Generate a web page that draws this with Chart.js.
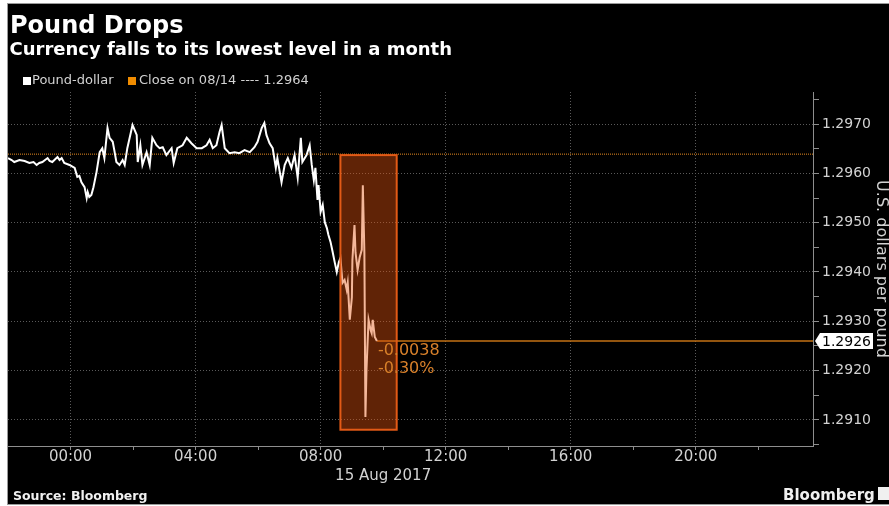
<!DOCTYPE html>
<html>
<head>
<meta charset="utf-8">
<title>Pound Drops</title>
<script src="https://cdn.jsdelivr.net/npm/chart.js@4.4.0/dist/chart.umd.min.js"></script>
<style>
  html, body { margin: 0; padding: 0; background: #fff; }
  #frame {
    position: absolute; left: 7px; top: 3px;
    width: 881px; height: 500px; background: #000;
    border-left: 1px solid #9a9a9a; border-top: 1px solid #9a9a9a; border-bottom: 1px solid #9a9a9a;
  }
  #frame canvas { display: block; }
</style>
</head>
<body>
<div id="frame"><canvas id="pound" width="881" height="500"></canvas></div>
<script>
// minutes from 00:00 on 15 Aug 2017 (negative = evening of 14 Aug)
const times = [
  -120, -113, -108, -98, -88, -79, -71, -65, -60, -54, -44, -40, -35, -29, -25, -21, -17, -12, -2,
  8, 13, 17, 21, 27, 31, 33, 36, 40, 44, 50, 56, 61, 65, 71, 75, 81, 84, 88, 94, 100, 104, 109,
  119, 127, 129, 134, 138, 146, 152, 157, 165, 171, 177, 184, 194, 198, 205, 215, 223, 232, 242,
  252, 261, 267, 273, 280, 286, 290, 296, 305, 315, 324, 334, 344, 353, 359, 367, 372, 376, 382,
  388, 394, 397, 405, 411, 417, 424, 430, 436, 442, 445, 453, 459, 463, 467, 470, 474, 476, 480,
  484, 488, 492, 495, 499, 503, 507, 511, 515, 518, 522, 526, 530, 532, 536, 540, 541, 545, 547,
  551, 555, 559, 561, 563, 564, 566, 568, 572, 576, 578, 580, 584, 588
];
const prices = [
  1.29631, 1.29627, 1.29623, 1.29627, 1.29625, 1.29621, 1.29623, 1.29617, 1.29621, 1.29623,
  1.29631, 1.29625, 1.29623, 1.29629, 1.29633, 1.29627, 1.29631, 1.29621, 1.29617,
  1.29611, 1.29593, 1.29595, 1.29582, 1.29572, 1.29550, 1.29562, 1.29552, 1.29556, 1.29572,
  1.29603, 1.29643, 1.29651, 1.29631, 1.29692, 1.29672, 1.29664, 1.29647, 1.29623, 1.29617,
  1.29627, 1.29617, 1.29651,
  1.29698, 1.29678, 1.29623, 1.29657, 1.29617, 1.29643, 1.29617, 1.29672, 1.29657, 1.29651,
  1.29653, 1.29637, 1.29651, 1.29621, 1.29651, 1.29657, 1.29672, 1.29661, 1.29651,
  1.29651, 1.29657, 1.29668, 1.29651, 1.29657, 1.29684, 1.29698, 1.29651, 1.29641, 1.29643,
  1.29641, 1.29647, 1.29643, 1.29653, 1.29664, 1.29692, 1.29702, 1.29678, 1.29661,
  1.29651, 1.29611, 1.29631, 1.29582, 1.29617, 1.29631, 1.29611, 1.29637, 1.29591, 1.29672,
  1.29623, 1.29637, 1.29657, 1.29617, 1.29586, 1.29611, 1.29546, 1.29576, 1.29522,
  1.29536, 1.29501, 1.29489, 1.29475, 1.29461, 1.29441, 1.29420, 1.29400, 1.29420, 1.29428,
  1.29378, 1.29384, 1.29364, 1.29378, 1.29303, 1.29349, 1.29424, 1.29495, 1.29439,
  1.29404, 1.29430, 1.29445, 1.29576, 1.29485, 1.29439, 1.29106, 1.29201, 1.29303, 1.29282,
  1.29276, 1.29303, 1.29268, 1.2926
];
const xTicks = [0, 120, 240, 360, 480, 600, 720, 840, 960, 1080, 1200, 1320];
const yTicks = [1.2905, 1.2910, 1.2915, 1.2920, 1.2925, 1.2930, 1.2935, 1.2940, 1.2945,
  1.2950, 1.2955, 1.2960, 1.2965, 1.2970, 1.2975];
const closePrev = 1.2964;
const highlightTimes = [518, 626];
const highlightPrices = [1.2908, 1.29637];
const changeText = ["-0.0038", "-0.30%"];
const dateLabel = "15 Aug 2017";

Chart.defaults.font.family = "'DejaVu Sans', sans-serif";

const isMajor = (v) => Math.round(v * 10000) % 10 === 0;
const pad2 = (n) => (n < 10 ? "0" + n : "" + n);

const gridColor = "#5a5a5a";
const axisColor = "#8e8e8e";
const textColor = "#d2d2d2";

// extra drawings: reference lines, highlight box, header and footer
const bloombergPlugin = {
  id: "bloomberg",
  beforeDatasetsDraw(chart) {
    const { ctx, chartArea, scales } = chart;
    const y = scales.y.getPixelForValue(closePrev);
    ctx.save();
    ctx.strokeStyle = "#e88c20";
    ctx.lineWidth = 1;
    ctx.setLineDash([1, 1]);
    ctx.beginPath();
    ctx.moveTo(chartArea.left, y + 0.5);
    ctx.lineTo(chartArea.right, y + 0.5);
    ctx.stroke();
    ctx.setLineDash([]);
    const last = prices.length - 1;
    const lx = scales.x.getPixelForValue(times[last]);
    const ly = scales.y.getPixelForValue(prices[last]);
    ctx.strokeStyle = "#c47214";
    ctx.lineWidth = 1.5;
    ctx.beginPath();
    ctx.moveTo(lx, ly);
    ctx.lineTo(chartArea.right, ly);
    ctx.stroke();
    ctx.restore();
  },
  afterDatasetsDraw(chart) {
    const { ctx, chartArea, scales } = chart;
    const x1 = scales.x.getPixelForValue(highlightTimes[0]);
    const x2 = scales.x.getPixelForValue(highlightTimes[1]);
    const y1 = scales.y.getPixelForValue(highlightPrices[1]);
    const y2 = scales.y.getPixelForValue(highlightPrices[0]);
    ctx.save();
    ctx.fillStyle = "rgba(228, 84, 14, 0.42)";
    ctx.fillRect(x1, y1, x2 - x1, y2 - y1);
    ctx.strokeStyle = "#e25a16";
    ctx.lineWidth = 2;
    ctx.strokeRect(x1, y1, x2 - x1, y2 - y1);

    const last = prices.length - 1;
    const lx = scales.x.getPixelForValue(times[last]);
    const ly = scales.y.getPixelForValue(prices[last]);
    ctx.fillStyle = "#d8802a";
    ctx.font = "16px 'DejaVu Sans'";
    ctx.textBaseline = "middle";
    ctx.textAlign = "left";
    ctx.fillText(changeText[0], lx + 1, ly + 10);
    ctx.fillText(changeText[1], lx + 1, ly + 28);

    // last price tag on the axis
    const r = chartArea.right;
    ctx.fillStyle = "#ffffff";
    ctx.beginPath();
    ctx.moveTo(r + 2, ly);
    ctx.lineTo(r + 7, ly - 8);
    ctx.lineTo(r + 60, ly - 8);
    ctx.lineTo(r + 60, ly + 8);
    ctx.lineTo(r + 7, ly + 8);
    ctx.closePath();
    ctx.fill();
    ctx.fillStyle = "#000000";
    ctx.font = "14px 'DejaVu Sans'";
    ctx.fillText(prices[last].toFixed(4), r + 9, ly + 1);
    ctx.restore();
  },
  afterDraw(chart) {
    const { ctx, scales, width } = chart;
    ctx.save();
    ctx.textAlign = "left";
    ctx.textBaseline = "alphabetic";
    ctx.fillStyle = "#ffffff";
    ctx.font = "bold 24px 'DejaVu Sans'";
    ctx.fillText("Pound Drops", 2, 29);
    ctx.font = "bold 18px 'DejaVu Sans'";
    ctx.fillText("Currency falls to its lowest level in a month", 1.5, 51);

    // legend
    ctx.fillStyle = "#ffffff";
    ctx.fillRect(15, 73, 8, 8);
    ctx.fillStyle = "#f08c00";
    ctx.fillRect(120, 73, 8, 8);
    ctx.fillStyle = textColor;
    ctx.font = "13px 'DejaVu Sans'";
    ctx.textBaseline = "middle";
    ctx.fillText("Pound-dollar", 24, 77);
    ctx.fillText("Close on 08/14 ---- " + closePrev.toFixed(4), 131, 77);

    ctx.textAlign = "center";
    ctx.font = "15px 'DejaVu Sans'";
    ctx.fillText(dateLabel, scales.x.getPixelForValue(600), 472);

    ctx.textAlign = "left";
    ctx.textBaseline = "alphabetic";
    ctx.fillStyle = "#f0f0f0";
    ctx.font = "bold 12.5px 'DejaVu Sans'";
    ctx.fillText("Source: Bloomberg", 5, 496);
    ctx.font = "bold 15px 'DejaVu Sans'";
    ctx.fillText("Bloomberg", 775, 496);
    ctx.fillRect(870, 483, width - 870, 13);
    ctx.restore();
  }
};

const data = {
  datasets: [
    {
      label: "Pound-dollar",
      data: times.map((t, i) => ({ x: t, y: prices[i] })),
      borderColor: "#ffffff",
      borderWidth: 2,
      pointRadius: 0,
      tension: 0,
      fill: false
    }
  ]
};

const config = {
  type: "line",
  data: data,
  options: {
    responsive: false,
    animation: false,
    layout: { padding: { top: 88, left: 0, right: 0, bottom: 0 } },
    plugins: {
      legend: { display: false },
      tooltip: { enabled: false }
    },
    scales: {
      x: {
        type: "linear",
        position: "bottom",
        min: -120,
        max: 1425,
        afterBuildTicks: (scale) => { scale.ticks = xTicks.map((v) => ({ value: v })); },
        afterFit: (scale) => { scale.height = 58; },
        ticks: {
          autoSkip: false,
          maxRotation: 0,
          padding: 0,
          color: textColor,
          font: { size: 15, lineHeight: 1 },
          callback: (v) => (v % 240 === 0 ? pad2(Math.floor(v / 60)) + ":00" : "")
        },
        grid: {
          color: (ctx) => (ctx.tick && ctx.tick.value % 240 === 0 ? gridColor : "transparent"),
          tickColor: axisColor,
          tickLength: 4
        },
        border: { color: axisColor, dash: [1, 2] }
      },
      y: {
        type: "linear",
        position: "right",
        min: 1.29047,
        max: 1.29765,
        afterBuildTicks: (scale) => { scale.ticks = yTicks.map((v) => ({ value: v })); },
        afterFit: (scale) => { scale.width = 76; },
        ticks: {
          autoSkip: false,
          padding: 3,
          color: textColor,
          font: { size: 14, lineHeight: 1 },
          callback: (v) => (isMajor(v) ? v.toFixed(4) : "")
        },
        grid: {
          color: (ctx) => (ctx.tick && isMajor(ctx.tick.value) ? gridColor : "transparent"),
          tickColor: axisColor,
          tickLength: 6
        },
        border: { color: axisColor, dash: [1, 2] },
        title: {
          display: true,
          text: "U.S. dollars per pound",
          color: textColor,
          font: { size: 16, lineHeight: 1 },
          padding: 0
        }
      }
    }
  },
  plugins: [bloombergPlugin]
};

const poundChart = new Chart(document.getElementById("pound").getContext("2d"), config);
</script>
</body>
</html>
